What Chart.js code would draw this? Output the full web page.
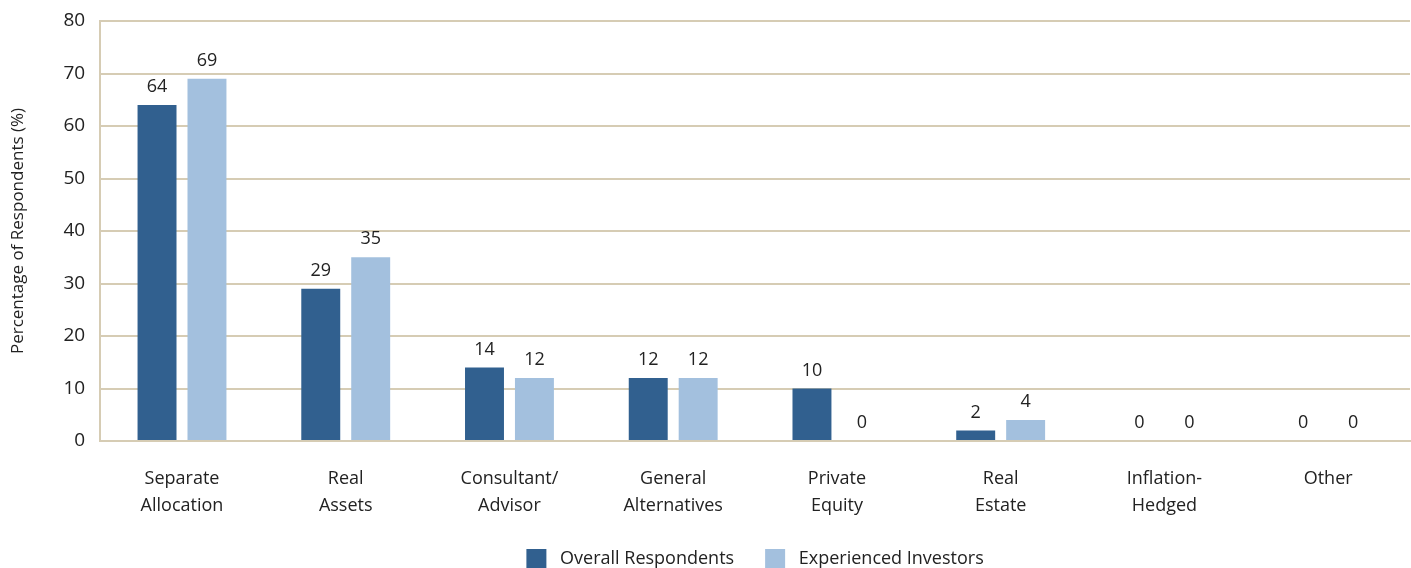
<!DOCTYPE html>
<html>
<head>
<meta charset="utf-8">
<script src="https://cdn.jsdelivr.net/npm/chart.js@4"></script>
<style>
  html, body { margin: 0; padding: 0; background: #fff; }
  #wrap { width: 1411px; height: 568px; }
</style>
</head>
<body>
<div id="wrap"><canvas id="chartId"></canvas></div>
<script>
const labels = [
    ['Separate', 'Allocation'], ['Real', 'Assets'], ['Consultant/', 'Advisor'],
    ['General', 'Alternatives'], ['Private', 'Equity'], ['Real', 'Estate'],
    ['Inflation-', 'Hedged'], ['Other']
]
const overall = [64, 29, 14, 12, 10, 2, 0, 0]
const experienced = [69, 35, 12, 12, 0, 4, 0, 0]
const yTicks = [0, 10, 20, 30, 40, 50, 60, 70, 80]

const fontFamily = "'Open Sans', sans-serif"
const tan = '#d6ccb4'

// draws the value above each bar
const valueLabels = {
    id: 'valueLabels',
    afterDatasetsDraw(chart) {
        const ctx = chart.ctx
        ctx.save()
        ctx.font = '18px ' + fontFamily
        ctx.fillStyle = '#222'
        ctx.textAlign = 'center'
        ctx.textBaseline = 'bottom'
        chart.data.datasets.forEach((ds, i) => {
            chart.getDatasetMeta(i).data.forEach((bar, j) => {
                ctx.fillText(ds.data[j], bar.x, bar.y - 9)
            })
        })
        ctx.restore()
    }
}

new Chart(document.getElementById('chartId'), {
    type: 'bar',
    data: {
        labels: labels,
        datasets: [{
            label: 'Overall Respondents',
            backgroundColor: '#31608f',
            data: overall
        }, {
            label: 'Experienced Investors',
            backgroundColor: '#a3c0de',
            data: experienced
        }]
    },
    options: {
        responsive: true,
        maintainAspectRatio: false,
        animation: false,
        categoryPercentage: 0.61,
        barPercentage: 0.78,
        layout: { padding: { top: 21, right: 1, left: 4, bottom: -11 } },
        plugins: {
            tooltip: { enabled: false },
            legend: {
                position: 'bottom',
                fullSize: false,
                labels: {
                    boxWidth: 20,
                    boxHeight: 20,
                    padding: 31,
                    color: '#222',
                    font: { family: fontFamily, size: 18 },
                    generateLabels: (chart) => Chart.defaults.plugins.legend.labels.generateLabels(chart)
                        .map(item => ({ ...item, text: ' ' + item.text }))
                }
            }
        },
        scales: {
            x: {
                grid: { display: false, drawTicks: false },
                border: { color: tan, width: 2 },
                afterFit: (axis) => { axis.height = 77 },
                ticks: {
                    color: '#222',
                    padding: 24,
                    maxRotation: 0,
                    font: { family: fontFamily, size: 18, lineHeight: 1.5 }
                }
            },
            y: {
                min: 0,
                max: 80,
                afterBuildTicks: (axis) => { axis.ticks = yTicks.map(v => ({ value: v })) },
                afterFit: (axis) => { axis.paddingTop = 0 },
                grid: { color: tan, lineWidth: 2, drawTicks: false },
                border: { color: tan, width: 2 },
                title: {
                    display: true,
                    text: 'Percentage of Respondents (%)',
                    color: '#222',
                    padding: { bottom: 20 },
                    font: { family: fontFamily, size: 17 }
                },
                ticks: {
                    color: '#222',
                    padding: 15,
                    font: { family: fontFamily, size: 19 }
                }
            }
        }
    },
    plugins: [valueLabels]
});
</script>
</body>
</html>
